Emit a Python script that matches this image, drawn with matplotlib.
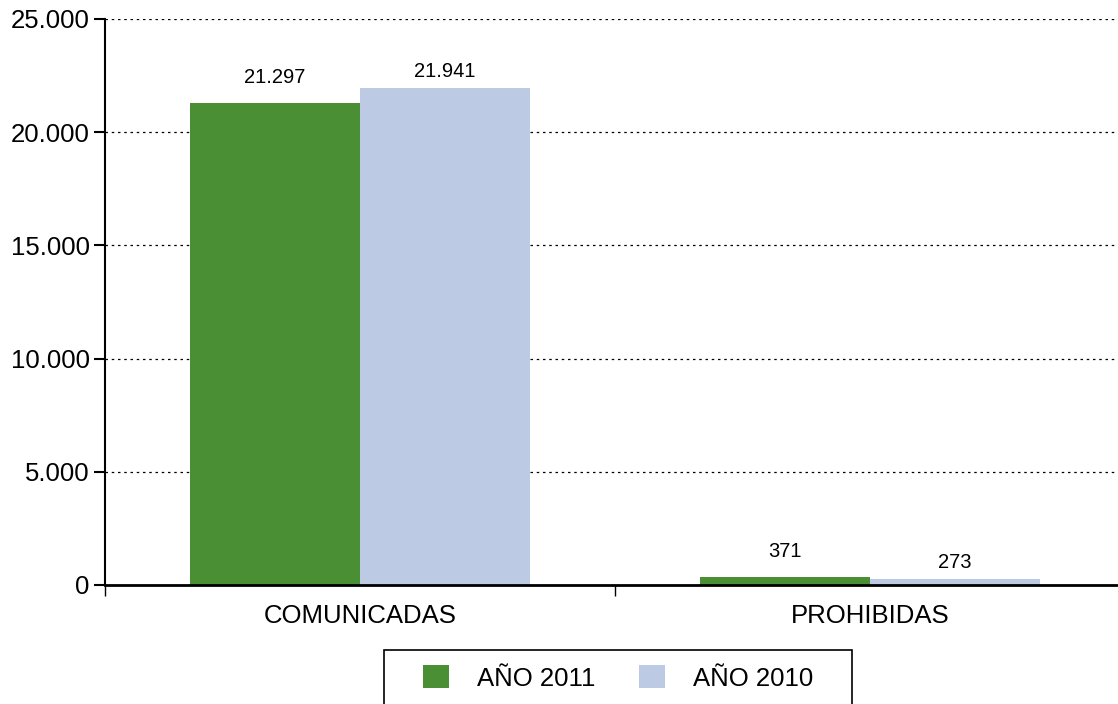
import matplotlib
matplotlib.use('Agg')
import matplotlib.pyplot as plt
import matplotlib.ticker as mtick
from matplotlib.patches import Rectangle
import numpy as np

plt.rcParams['font.family'] = ['Liberation Sans', 'DejaVu Sans']

categories = ['COMUNICADAS', 'PROHIBIDAS']
series_names = ['AÑO 2011', 'AÑO 2010']
values_2011 = [21297, 371]
values_2010 = [21941, 273]
colors = ['#4a8f34', '#bccae3']

fig = plt.figure(figsize=(11.18, 7.04), dpi=100)
ax = fig.add_axes([105 / 1118, 119 / 704, 1013 / 1118, 566 / 704])

x = np.arange(len(categories))
w = 1 / 3
b1 = ax.bar(x - w / 2, values_2011, w, color=colors[0], label=series_names[0], zorder=3)
b2 = ax.bar(x + w / 2, values_2010, w, color=colors[1], label=series_names[1], zorder=3)

def fmt_num(v):
    return f'{v:,.0f}'.replace(',', '.')

# value labels (the 2010 ones sit a bit closer to their bars)
for bars, off in ((b1, 11.5), (b2, 5)):
    for r in bars:
        v = r.get_height()
        ax.annotate(fmt_num(v), (r.get_x() + r.get_width() / 2, v),
                    xytext=(0, off), textcoords='offset points',
                    ha='center', va='bottom', fontsize=14.5)

ax.set_xlim(-0.5, -0.5 + 1013 / 510)
ax.set_ylim(0, 25000)
ax.yaxis.set_major_locator(mtick.MultipleLocator(5000))
ax.yaxis.set_major_formatter(mtick.FuncFormatter(lambda v, p: fmt_num(v)))
ax.yaxis.grid(True, color='black', linestyle=(0, (2, 3)), linewidth=0.9, zorder=0)

ax.set_xticks([-0.5, 0.5])
ax.set_xticklabels([])
ax.set_xticks(x, minor=True)
ax.set_xticklabels(categories, minor=True, fontsize=18.5)
ax.tick_params(axis='x', which='minor', length=0, pad=14)
ax.tick_params(axis='x', which='major', length=8, width=1, direction='out')
ax.tick_params(axis='y', length=8, width=1.5, labelsize=18.5, pad=3)

for s in ('top', 'right'):
    ax.spines[s].set_visible(False)
ax.spines['left'].set_linewidth(1.5)
ax.spines['bottom'].set_linewidth(2)
ax.spines['bottom'].set_zorder(4)
ax.spines['left'].set_bounds(0, 25000)

# legend box, cut off by the figure bottom
fig.patches.append(Rectangle((384 / 1118, -20 / 704), 468 / 1118, 74 / 704,
                             transform=fig.transFigure, fill=False,
                             edgecolor='black', linewidth=1.2))
fig.legend(handles=[b1, b2], labels=series_names, loc='center',
           bbox_to_anchor=(618 / 1118, (704 - 678) / 704), ncol=2,
           frameon=False, fontsize=18.5, handlelength=1.0, handleheight=1.0,
           handletextpad=1.1, columnspacing=1.7)

fig.savefig('out.png', dpi=100)
